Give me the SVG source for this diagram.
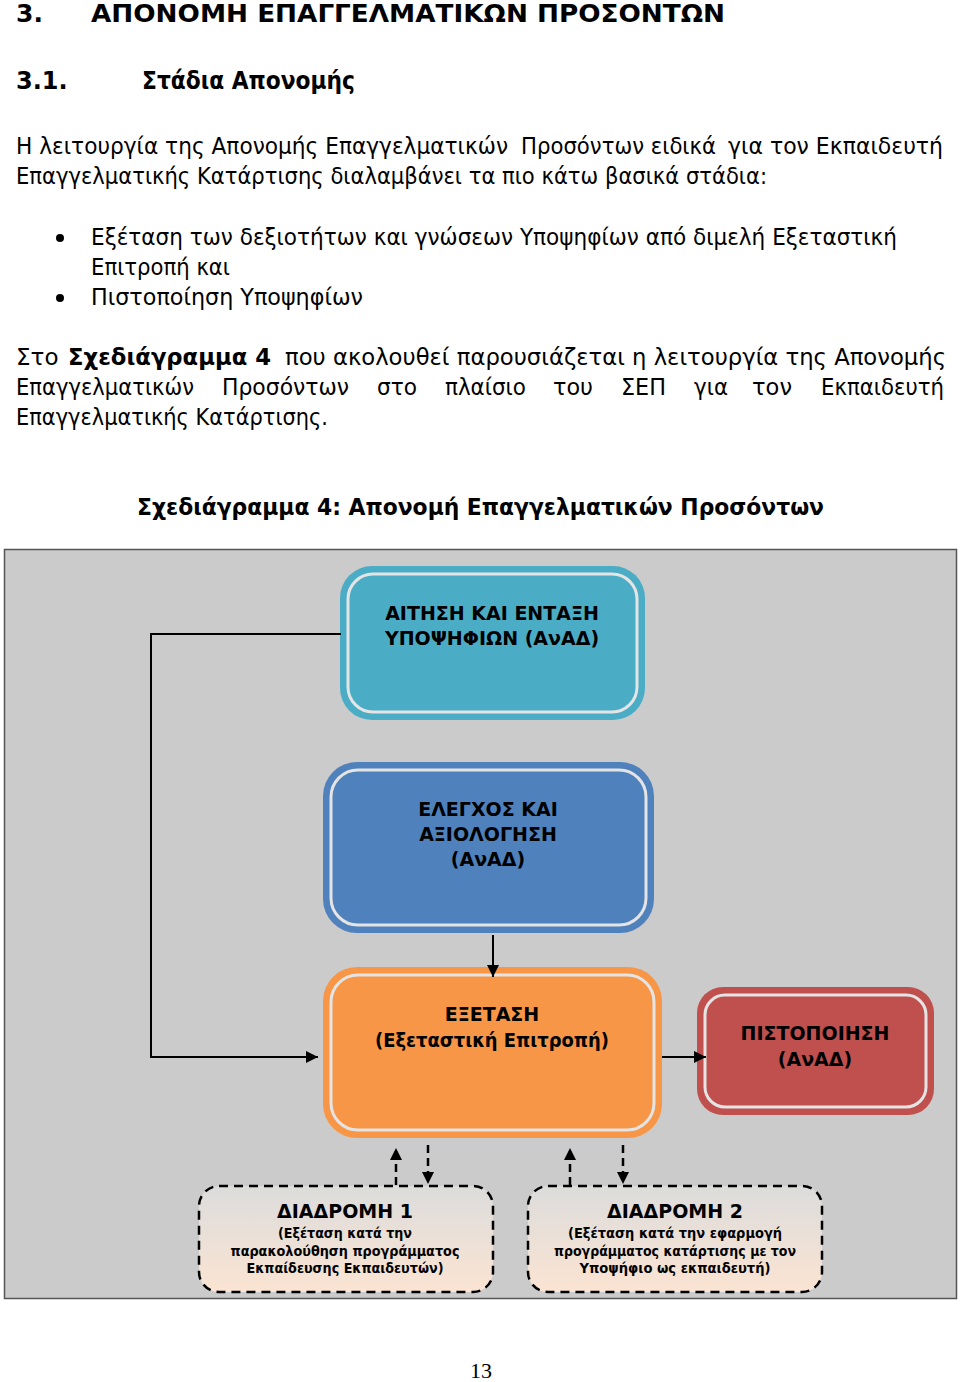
<svg xmlns="http://www.w3.org/2000/svg" width="960" height="1382" viewBox="0 0 960 1382">
<style>
.t{font-family:"DejaVu Sans","Verdana",sans-serif;fill:#000}
.b{font-weight:bold}
.body{font-size:23px}
.nd{font-family:"DejaVu Sans",sans-serif;font-weight:bold;font-size:19px;text-anchor:middle;fill:#000}
.sm{font-family:"DejaVu Sans",sans-serif;font-weight:bold;font-size:14px;text-anchor:middle;fill:#000}
.inner{fill:none;stroke:#e4e4e4;stroke-width:3}
.con{fill:none;stroke:#000;stroke-width:2}
.dash{fill:none;stroke:#000;stroke-width:2.5;stroke-dasharray:8,5}
.dbox{fill:url(#g);stroke:#000;stroke-width:2.5;stroke-dasharray:9,6}
</style>
<defs>
<marker id="ah" viewBox="0 0 10 10" refX="10" refY="5" markerWidth="12" markerHeight="12" markerUnits="userSpaceOnUse" orient="auto"><path d="M0,0L10,5L0,10z" fill="#000"/></marker>
<linearGradient id="g" x1="0" y1="0" x2="0" y2="1"><stop offset="0" stop-color="#dcdcdc"/><stop offset="1" stop-color="#fbe4d2"/></linearGradient>
</defs>
<rect width="960" height="1382" fill="#fff"/>
<g id="text">
<text class="t b" x="16" y="22" font-size="25">3.</text>
<text class="t b" x="91" y="22" font-size="25" textLength="634" lengthAdjust="spacingAndGlyphs">ΑΠΟΝΟΜΗ ΕΠΑΓΓΕΛΜΑΤΙΚΩΝ ΠΡΟΣΟΝΤΩΝ</text>
<text class="t b" x="16" y="89" font-size="24">3.1.</text>
<text class="t b" x="142" y="89" font-size="24" textLength="213" lengthAdjust="spacingAndGlyphs">Στάδια Απονομής</text>
<text class="t body" x="16" y="154" textLength="492" lengthAdjust="spacingAndGlyphs">Η λειτουργία της Απονομής Επαγγελματικών</text>
<text class="t body" x="521" y="154" textLength="195" lengthAdjust="spacingAndGlyphs">Προσόντων ειδικά</text>
<text class="t body" x="943" y="154" text-anchor="end" textLength="215" lengthAdjust="spacingAndGlyphs">για τον Εκπαιδευτή</text>
<text class="t body" x="16" y="184" textLength="751" lengthAdjust="spacingAndGlyphs">Επαγγελματικής Κατάρτισης διαλαμβάνει τα πιο κάτω βασικά στάδια:</text>
<circle cx="60" cy="238" r="4"/>
<text class="t body" x="91" y="245" textLength="806" lengthAdjust="spacingAndGlyphs">Εξέταση των δεξιοτήτων και γνώσεων Υποψηφίων από διμελή Εξεταστική</text>
<text class="t body" x="91" y="275" textLength="139" lengthAdjust="spacingAndGlyphs">Επιτροπή και</text>
<circle cx="60" cy="298" r="4"/>
<text class="t body" x="91" y="305" textLength="272" lengthAdjust="spacingAndGlyphs">Πιστοποίηση Υποψηφίων</text>
<text class="t body" x="16" y="365">Στο</text>
<text class="t body b" x="68" y="365" textLength="203" lengthAdjust="spacingAndGlyphs">Σχεδιάγραμμα 4</text>
<text class="t body" x="946" y="365" text-anchor="end" textLength="661" lengthAdjust="spacingAndGlyphs">που ακολουθεί παρουσιάζεται η λειτουργία της Απονομής</text>
<text class="t body" x="16" y="395" textLength="178" lengthAdjust="spacingAndGlyphs">Επαγγελματικών</text>
<text class="t body" x="222" y="395" textLength="127" lengthAdjust="spacingAndGlyphs">Προσόντων</text>
<text class="t body" x="377" y="395" textLength="40" lengthAdjust="spacingAndGlyphs">στο</text>
<text class="t body" x="445" y="395" textLength="81" lengthAdjust="spacingAndGlyphs">πλαίσιο</text>
<text class="t body" x="553" y="395" textLength="40" lengthAdjust="spacingAndGlyphs">του</text>
<text class="t body" x="621" y="395" textLength="45" lengthAdjust="spacingAndGlyphs">ΣΕΠ</text>
<text class="t body" x="694" y="395" textLength="34" lengthAdjust="spacingAndGlyphs">για</text>
<text class="t body" x="752" y="395" textLength="40" lengthAdjust="spacingAndGlyphs">τον</text>
<text class="t body" x="944" y="395" text-anchor="end" textLength="123" lengthAdjust="spacingAndGlyphs">Εκπαιδευτή</text>
<text class="t body" x="16" y="425" textLength="312" lengthAdjust="spacingAndGlyphs">Επαγγελματικής Κατάρτισης.</text>
<text class="t b" x="137" y="515" font-size="23" textLength="687" lengthAdjust="spacingAndGlyphs">Σχεδιάγραμμα 4: Απονομή Επαγγελματικών Προσόντων</text>
<text x="481" y="1378" font-family="Liberation Serif,serif" font-size="22" text-anchor="middle">13</text>
</g>
<rect id="frame" x="4.5" y="549.5" width="952" height="749" fill="#cbcbcb" stroke="#555" stroke-width="1.5"/>
<g id="n1">
<rect x="340" y="566" width="305" height="154" rx="32" fill="#4bacc6"/>
<rect class="inner" x="348" y="574" width="289" height="138" rx="25"/>
<text class="nd" x="492" y="620">ΑΙΤΗΣΗ ΚΑΙ ΕΝΤΑΞΗ</text>
<text class="nd" x="492" y="645">ΥΠΟΨΗΦΙΩΝ (ΑνΑΔ)</text>
</g>
<g id="n2">
<rect x="323" y="762" width="331" height="171" rx="34" fill="#4f81bd"/>
<rect class="inner" x="331" y="770" width="315" height="155" rx="27"/>
<text class="nd" x="488" y="816">ΕΛΕΓΧΟΣ ΚΑΙ</text>
<text class="nd" x="488" y="841">ΑΞΙΟΛΟΓΗΣΗ</text>
<text class="nd" x="488" y="866">(ΑνΑΔ)</text>
</g>
<g id="n3">
<rect x="323" y="967" width="339" height="171" rx="34" fill="#f79646"/>
<rect class="inner" x="331" y="975" width="323" height="155" rx="27"/>
<text class="nd" x="492" y="1021">ΕΞΕΤΑΣΗ</text>
<text class="nd" x="492" y="1047" textLength="234" lengthAdjust="spacingAndGlyphs">(Εξεταστική Επιτροπή)</text>
</g>
<g id="n4">
<rect x="697" y="987" width="237" height="128" rx="26" fill="#c0504d"/>
<rect class="inner" x="705" y="995" width="221" height="112" rx="20"/>
<text class="nd" x="815" y="1040">ΠΙΣΤΟΠΟΙΗΣΗ</text>
<text class="nd" x="815" y="1066">(ΑνΑΔ)</text>
</g>
<g id="d1">
<rect class="dbox" x="199" y="1186" width="294" height="106" rx="20"/>
<text class="nd" x="345" y="1218" font-size="20">ΔΙΑΔΡΟΜΗ 1</text>
<text class="sm" x="345" y="1238" textLength="134" lengthAdjust="spacingAndGlyphs">(Εξέταση κατά την</text>
<text class="sm" x="345" y="1256" textLength="229" lengthAdjust="spacingAndGlyphs">παρακολούθηση προγράμματος</text>
<text class="sm" x="345" y="1273" textLength="197" lengthAdjust="spacingAndGlyphs">Εκπαίδευσης Εκπαιδευτών)</text>
</g>
<g id="d2">
<rect class="dbox" x="528" y="1186" width="294" height="106" rx="20"/>
<text class="nd" x="675" y="1218" font-size="20">ΔΙΑΔΡΟΜΗ 2</text>
<text class="sm" x="675" y="1238" textLength="214" lengthAdjust="spacingAndGlyphs">(Εξέταση κατά την εφαρμογή</text>
<text class="sm" x="675" y="1256" textLength="242" lengthAdjust="spacingAndGlyphs">προγράμματος κατάρτισης με τον</text>
<text class="sm" x="675" y="1273" textLength="191" lengthAdjust="spacingAndGlyphs">Υποψήφιο ως εκπαιδευτή)</text>
</g>
<g id="connectors">
<polyline class="con" points="341,634 151,634 151,1057 318,1057" marker-end="url(#ah)"/>
<line class="con" x1="493" y1="935" x2="493" y2="977" marker-end="url(#ah)"/>
<line class="con" x1="662" y1="1057" x2="706" y2="1057" marker-end="url(#ah)"/>
<line class="dash" x1="396" y1="1185" x2="396" y2="1148" marker-end="url(#ah)"/>
<line class="dash" x1="428" y1="1145" x2="428" y2="1184" marker-end="url(#ah)"/>
<line class="dash" x1="570" y1="1185" x2="570" y2="1148" marker-end="url(#ah)"/>
<line class="dash" x1="623" y1="1145" x2="623" y2="1184" marker-end="url(#ah)"/>
</g>
</svg>
